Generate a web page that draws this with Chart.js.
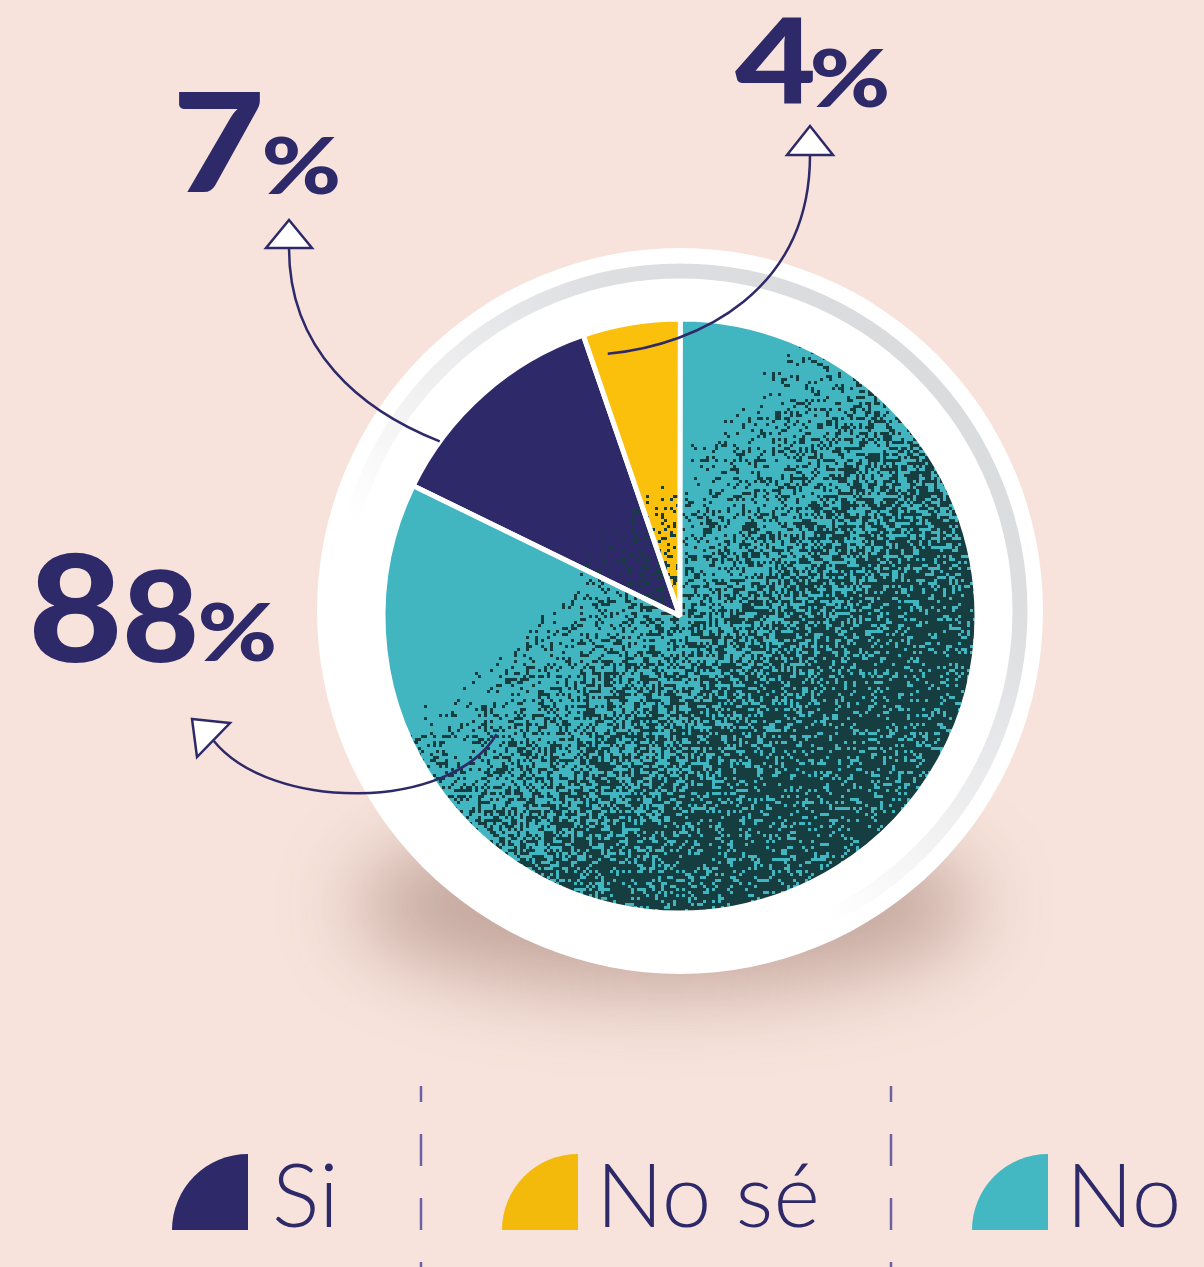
<!DOCTYPE html>
<html>
<head>
<meta charset="utf-8">
<script src="https://cdn.jsdelivr.net/npm/chart.js@4.4.1/dist/chart.umd.min.js"></script>
<style>
  html, body { margin: 0; padding: 0; background: #f7e3db; }
  canvas { display: block; }
</style>
</head>
<body>
<canvas id="pie-chart" width="1204" height="1267"></canvas>
<script>
const labels = ["Si", "No sé", "No"];
const percentLabels = [7, 4, 88];
// share of the circle each slice takes in the drawing
const sliceShares = [12.5, 5.3, 82.2];
const sliceColors = ["#2e2a6a", "#fbc00b", "#41b5c0"];
const legendColors = ["#2e2a6a", "#f3b90b", "#43b8c2"];

const NAVY = "#2e2a6a";
const canvas = document.getElementById("pie-chart");
const mainCtx = canvas.getContext("2d");

// speckle texture, denser towards the lower right of the pie
function speckle(base) {
  const c = document.createElement("canvas");
  c.width = canvas.width;
  c.height = canvas.height;
  const g = c.getContext("2d");
  g.fillStyle = base;
  g.fillRect(0, 0, c.width, c.height);
  g.fillStyle = "#163e40";
  let seed = 12345;
  const rnd = () => {
    seed = (seed * 16807) % 2147483647;
    return seed / 2147483647;
  };
  const cell = 3;
  for (let y = 300; y < 940; y += cell) {
    for (let x = 370; x < 1000; x += cell) {
      const t = ((x - 450) * 0.7 + (y - 420) * 0.7) / 600;
      let p = Math.min(Math.max((t - 0.3) / 0.5, 0), 1);
      p = Math.pow(p, 0.8) * 0.8;
      if (rnd() < p) g.fillRect(x, y, cell, cell);
    }
  }
  return mainCtx.createPattern(c, "no-repeat");
}

function fitText(ctx, text, font, box) {
  ctx.font = font;
  const m = ctx.measureText(text);
  const inkW = m.actualBoundingBoxLeft + m.actualBoundingBoxRight;
  const inkH = m.actualBoundingBoxAscent + m.actualBoundingBoxDescent;
  ctx.save();
  ctx.translate(box[0], box[1]);
  ctx.scale((box[2] - box[0]) / inkW, (box[3] - box[1]) / inkH);
  ctx.textAlign = "left";
  ctx.textBaseline = "alphabetic";
  ctx.fillText(text, m.actualBoundingBoxLeft, m.actualBoundingBoxAscent);
  ctx.restore();
}

const backdrop = {
  id: "backdrop",
  beforeDatasetsDraw(chart) {
    const ctx = chart.ctx;
    const cx = 680, cy = 611;
    // soft shadow under the plate
    ctx.save();
    ctx.filter = "blur(40px)";
    ctx.fillStyle = "rgba(120, 78, 66, 0.4)";
    ctx.beginPath();
    ctx.ellipse(665, 905, 310, 85, 0, 0, Math.PI * 2);
    ctx.fill();
    ctx.restore();

    ctx.save();
    ctx.fillStyle = "#ffffff";
    ctx.beginPath();
    ctx.arc(cx, cy, 363, 0, Math.PI * 2);
    ctx.fill();
    ctx.restore();

    ctx.save();
    const grad = ctx.createLinearGradient(950, 260, 430, 880);
    grad.addColorStop(0, "#d8d9db");
    grad.addColorStop(0.3, "#dedfe1");
    grad.addColorStop(0.55, "#f1f1f2");
    grad.addColorStop(0.72, "#ffffff");
    ctx.strokeStyle = grad;
    ctx.lineWidth = 15;
    ctx.beginPath();
    ctx.arc(cx, cy, 340, 0, Math.PI * 2);
    ctx.stroke();
    ctx.restore();
  },
};

// arrows: start inside the slice (compass angle, radius fraction), bezier controls, head
const arrows = [
  { angle: 306, r: 1.0, c1: [360, 410], c2: [289, 350], end: [289, 248],
    head: [[289, 220], [266, 248], [312, 248]] },
  { angle: 344.6, r: 0.916, c1: [700, 345], c2: [810, 290], end: [810, 155],
    head: [[810, 126], [787, 155], [833, 155]] },
  { angle: 237.2, r: 0.735, c1: [450, 812], c2: [270, 812], end: [213, 740],
    head: [[192, 719], [230, 723], [197, 757]] },
];

// ink boxes of the big number glyphs
const numberBoxes = [
  [[179, 92, 260, 192], [265, 137, 338, 195]],
  [[735, 18, 813, 103], [813, 48, 887, 108]],
  [[33, 553, 118, 663], [126, 570, 195, 663], [201, 602, 274, 662]],
];

const annotations = {
  id: "annotations",
  afterDatasetsDraw(chart) {
    const ctx = chart.ctx;
    const arc0 = chart.getDatasetMeta(0).data[0];
    const cx = arc0.x, cy = arc0.y, R = arc0.outerRadius;

    arrows.forEach((a) => {
      const rad = ((a.angle - 90) * Math.PI) / 180;
      const sx = cx + Math.cos(rad) * R * a.r;
      const sy = cy + Math.sin(rad) * R * a.r;
      ctx.save();
      ctx.strokeStyle = NAVY;
      ctx.lineWidth = 2.5;
      ctx.beginPath();
      ctx.moveTo(sx, sy);
      ctx.bezierCurveTo(a.c1[0], a.c1[1], a.c2[0], a.c2[1], a.end[0], a.end[1]);
      ctx.stroke();
      ctx.beginPath();
      ctx.moveTo(a.head[0][0], a.head[0][1]);
      ctx.lineTo(a.head[1][0], a.head[1][1]);
      ctx.lineTo(a.head[2][0], a.head[2][1]);
      ctx.closePath();
      ctx.fillStyle = "#ffffff";
      ctx.fill();
      ctx.lineJoin = "miter";
      ctx.stroke();
      ctx.restore();
    });

    ctx.save();
    ctx.fillStyle = NAVY;
    percentLabels.forEach((v, i) => {
      const parts = String(v).split("").concat("%");
      parts.forEach((p, j) => {
        fitText(ctx, p, "900 140px Lato, Inter, sans-serif", numberBoxes[i][j]);
      });
    });
    ctx.restore();
  },
};

const legendIcons = [172, 502, 972];
const dividers = [421, 891];

const quarterLegend = {
  id: "quarterLegend",
  afterDraw(chart) {
    const ctx = chart.ctx;
    ctx.save();
    ctx.strokeStyle = "#6a62a4";
    ctx.lineWidth = 2.5;
    ctx.setLineDash([32, 32]);
    ctx.lineDashOffset = 16;
    dividers.forEach((x) => {
      ctx.beginPath();
      ctx.moveTo(x, 1086);
      ctx.lineTo(x, 1267);
      ctx.stroke();
    });
    ctx.restore();

    const bottom = 1230, size = 76;
    labels.forEach((label, i) => {
      const x = legendIcons[i];
      ctx.save();
      ctx.fillStyle = legendColors[i];
      ctx.beginPath();
      ctx.moveTo(x + size, bottom);
      ctx.arc(x + size, bottom, size, Math.PI, Math.PI * 1.5);
      ctx.closePath();
      ctx.fill();

      ctx.fillStyle = NAVY;
      ctx.font = "300 89px Lato, Inter, sans-serif";
      ctx.textBaseline = "alphabetic";
      const m = ctx.measureText(label);
      ctx.fillText(label, x + size + 27 + m.actualBoundingBoxLeft, 1227);
      ctx.restore();
    });
  },
};

new Chart(canvas, {
  type: "pie",
  data: {
    labels: labels,
    datasets: [
      {
        data: sliceShares,
        backgroundColor: sliceColors.map((c) => speckle(c)),
        borderColor: "#ffffff",
        borderWidth: 5,
        radius: 297,
      },
    ],
  },
  options: {
    responsive: false,
    animation: false,
    devicePixelRatio: 1,
    rotation: -64,
    layout: {
      padding: { left: 383, right: 227, top: 319, bottom: 354 },
    },
    plugins: {
      legend: { display: false },
      tooltip: { enabled: false },
    },
  },
  plugins: [backdrop, annotations, quarterLegend],
});
</script>
</body>
</html>
